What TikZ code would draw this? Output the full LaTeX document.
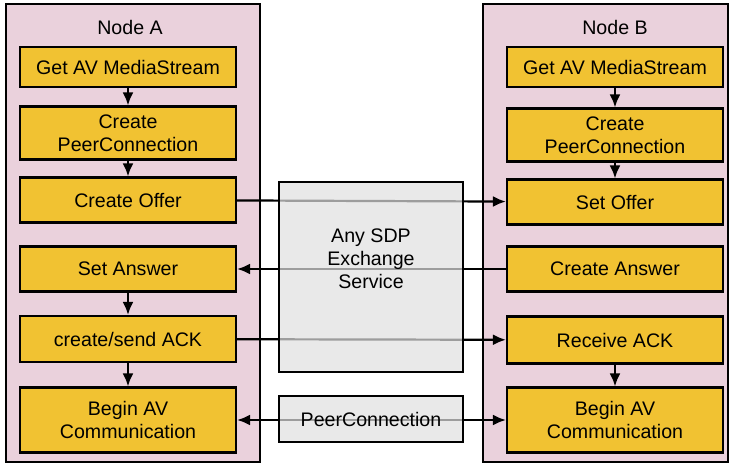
\documentclass[tikz,border=0pt]{standalone}
\usepackage{fontspec}
\setmainfont{Liberation Sans}
\usepackage{tikz}
\usetikzlibrary{arrows.meta,positioning}

\begin{document}
\begin{tikzpicture}[x=0.5pt, y=-0.5pt, line width=1.1pt,
    every node/.style={font=\fontsize{9.8}{11.5}\selectfont, align=center},
    stepbox/.style={draw, fill=stepcol, inner sep=0pt, minimum width=108pt},
    svcbox/.style={draw, fill=svccol, fill opacity=0.7, text opacity=1, inner sep=0pt, minimum width=92pt},
    flow/.style={-{Latex[length=6.5pt,width=5.5pt]}}]
    % Define colors
    \definecolor{peercol}{HTML}{EAD1DC}
    \definecolor{stepcol}{HTML}{F1C232}
    \definecolor{svccol}{HTML}{E0E0E0}

    \useasboundingbox (0,0) rectangle (731,466);

    % Peer containers
    \draw[fill=peercol] (6,4) rectangle (260,462);
    \draw[fill=peercol] (483,4) rectangle (728,462);
    \node (peerA) at (130,27) {Node A};
    \node (peerB) at (615,27) {Node B};

    % Steps of node A
    \node[stepbox, minimum height=20pt] (a1) at (128,67) {Get AV MediaStream};
    \node[stepbox, minimum height=26.5pt] (a2) at (128,133) {Create\\PeerConnection};
    \node[stepbox, minimum height=22.5pt] (a3) at (128,200) {Create Offer};
    \node[stepbox, minimum height=22.5pt] (a4) at (128,269) {Set Answer};
    \node[stepbox, minimum height=23pt] (a5) at (128,339) {create/send ACK};
    \node[stepbox, minimum height=32.5pt] (a6) at (128,420) {Begin AV\\Communication};

    % Steps of node B
    \node[stepbox, minimum height=20pt] (b1) at (615,67) {Get AV MediaStream};
    \node[stepbox, minimum height=26.5pt] (b2) at (615,135) {Create\\PeerConnection};
    \node[stepbox, minimum height=22.5pt] (b3) at (615,202) {Set Offer};
    \node[stepbox, minimum height=22.5pt] (b4) at (615,269) {Create Answer};
    \node[stepbox, minimum height=23.5pt] (b5) at (615,340) {Receive ACK};
    \node[stepbox, minimum height=32.5pt] (b6) at (615,420) {Begin AV\\Communication};

    % Local flow
    \draw[flow] (a1) -- (a2);
    \draw[flow] (a2) -- (a3);
    \draw[flow] (a4) -- (a5);
    \draw[flow] (a5) -- (a6);
    \draw[flow] (b1) -- (b2);
    \draw[flow] (b2) -- (b3);
    \draw[flow] (b5) -- (b6);

    % Exchange between the nodes
    \draw[flow] (a3) -- (b3);
    \draw[flow] (b4) -- (a4);
    \draw[flow] (a5) -- (b5);
    \draw[{Latex[length=6.5pt,width=5.5pt]}-{Latex[length=6.5pt,width=5.5pt]}] (a6) -- (b6);

    % Services in the middle
    \node[svcbox, minimum height=95pt] (sdp) at (371,277) {};
    \node (sdptext) at (371,259) {Any SDP\\Exchange\\Service};
    \node[svcbox, minimum height=23pt] (pc) at (371,419) {PeerConnection};
\end{tikzpicture}
\end{document}
